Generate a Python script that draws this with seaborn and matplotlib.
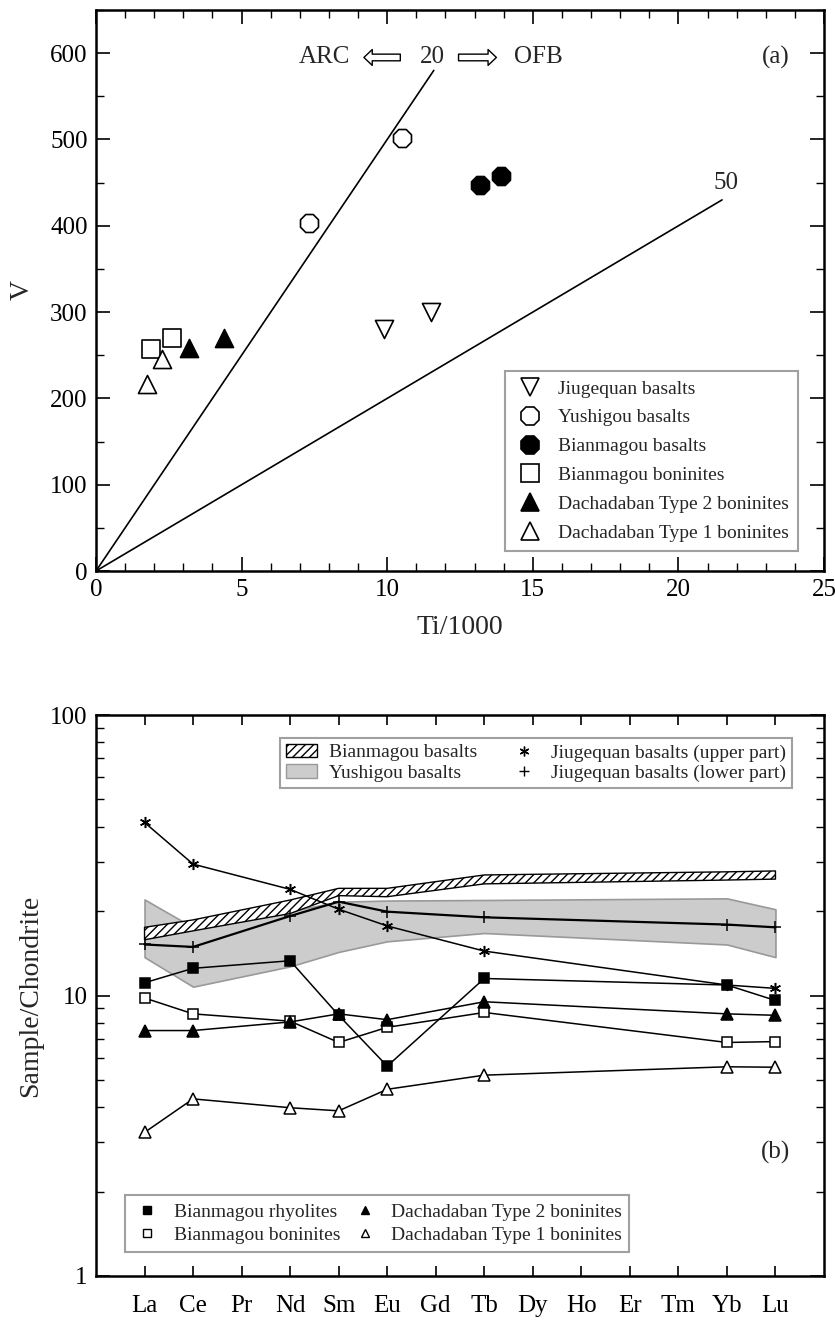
import numpy as np
import pandas as pd
import matplotlib
matplotlib.use("Agg")
import matplotlib.pyplot as plt
import seaborn as sns
from matplotlib.lines import Line2D
from matplotlib.patches import Patch
from matplotlib.ticker import MultipleLocator, LogLocator, NullFormatter, FixedLocator

sns.set_theme(style="ticks")
plt.rcParams['font.family'] = ['Liberation Serif', 'DejaVu Serif']
plt.rcParams['hatch.linewidth'] = 1.0

# ---------------- Panel (a) data ----------------
jiu_ti = [9.9, 11.5]
jiu_v = [280, 300]
yus_ti = [7.3, 10.5]
yus_v = [403, 502]
bmb_ti = [13.2, 13.9]
bmb_v = [447, 458]
bmbon_ti = [1.9, 2.6]
bmbon_v = [257, 270]
d2_ti = [3.2, 4.4]
d2_v = [258, 270]
d1_ti = [1.75, 2.25]
d1_v = [217, 246]

ratio_lines = [20, 50]
ratio_ends = [11.6, 21.5]

# ---------------- Panel (b) data ----------------
ree = ["La", "Ce", "Pr", "Nd", "Sm", "Eu", "Gd", "Tb", "Dy", "Ho", "Er", "Tm", "Yb", "Lu"]
meas = ["La", "Ce", "Nd", "Sm", "Eu", "Tb", "Yb", "Lu"]

jiu_upper = [41.4, 29.4, 23.9, 20.3, 17.7, 14.4, 10.9, 10.6]
jiu_lower = [15.2, 14.9, 19.2, 21.6, 19.9, 19.0, 17.9, 17.5]
bm_rhy = [11.1, 12.5, 13.3, 8.5, 5.6, 11.5, 10.9, 9.6]
bm_bon = [9.8, 8.6, 8.1, 6.8, 7.7, 8.7, 6.8, 6.85]
dach2 = [7.5, 7.5, 8.05, 8.6, 8.2, 9.5, 8.6, 8.5]
dach1 = [3.25, 4.28, 3.98, 3.88, 4.63, 5.2, 5.57, 5.55]

bmbas_hi = [17.5, 18.6, 21.9, 24.1, 24.1, 26.9, 27.6, 27.8]
bmbas_lo = [15.8, 17.0, 19.6, 22.7, 22.5, 25.0, 25.8, 26.0]
yus_hi = [22.0, 17.5, 20.0, 21.6, 21.8, 21.9, 22.2, 20.3]
yus_lo = [13.7, 10.75, 12.7, 14.3, 15.6, 16.7, 15.2, 13.7]

W, H = 835, 1325
fig = plt.figure(figsize=(W / 100, H / 100), dpi=100)
axa = fig.add_axes([96 / W, 1 - 571 / H, 728 / W, 561 / H])
axb = fig.add_axes([96 / W, 1 - 1276 / H, 728 / W, 561 / H])

TICK_FS = 18
LAB_FS = 20
ANN_FS = 18

# ---------------- Panel (a) ----------------
dfa = pd.concat([
    pd.DataFrame({"Ti": jiu_ti, "V": jiu_v, "grp": "Jiugequan basalts"}),
    pd.DataFrame({"Ti": yus_ti, "V": yus_v, "grp": "Yushigou basalts"}),
    pd.DataFrame({"Ti": bmb_ti, "V": bmb_v, "grp": "Bianmagou basalts"}),
    pd.DataFrame({"Ti": bmbon_ti, "V": bmbon_v, "grp": "Bianmagou boninites"}),
    pd.DataFrame({"Ti": d2_ti, "V": d2_v, "grp": "Dachadaban Type 2 boninites"}),
    pd.DataFrame({"Ti": d1_ti, "V": d1_v, "grp": "Dachadaban Type 1 boninites"}),
])
styles_a = {
    "Jiugequan basalts": ("v", "white", 13),
    "Yushigou basalts": ("8", "white", 14),
    "Bianmagou basalts": ("8", "black", 14),
    "Bianmagou boninites": ("s", "white", 13),
    "Dachadaban Type 2 boninites": ("^", "black", 13),
    "Dachadaban Type 1 boninites": ("^", "white", 13),
}

for r, xe in zip(ratio_lines, ratio_ends):
    xs = np.array([0, xe])
    axa.plot(xs, xs * 1000 / r, color="black", lw=1.2, zorder=1)

handles_a = []
for g, (m, fc, ms) in styles_a.items():
    sub = dfa[dfa.grp == g]
    sns.scatterplot(data=sub, x="Ti", y="V", marker=m, s=ms ** 2, color=fc,
                    edgecolor="black", linewidth=1.2, ax=axa, zorder=3, legend=False)
    handles_a.append(Line2D([], [], ls="none", marker=m, markersize=ms,
                            markerfacecolor=fc, markeredgecolor="black", markeredgewidth=1.2, label=g))

axa.set_xlim(0, 25)
axa.set_ylim(0, 650)
axa.xaxis.set_major_locator(MultipleLocator(5))
axa.xaxis.set_minor_locator(MultipleLocator(1))
axa.yaxis.set_minor_locator(MultipleLocator(50))
axa.set_yticks([0, 100, 200, 300, 400, 500, 600])
axa.set_xlabel("Ti/1000", fontsize=LAB_FS, labelpad=10)
axa.set_ylabel("V", fontsize=LAB_FS, labelpad=11)

axa.text(7.84, 595, "ARC", fontsize=ANN_FS, ha="center", va="center")
axa.text(11.54, 595, "20", fontsize=ANN_FS, ha="center", va="center")
axa.text(15.2, 595, "OFB", fontsize=ANN_FS, ha="center", va="center")
axa.text(23.36, 595, "(a)", fontsize=ANN_FS, ha="center", va="center")
axa.text(21.64, 450, "50", fontsize=ANN_FS, ha="center", va="center")
arrow_kw = dict(arrowstyle="simple,head_length=0.5,head_width=0.95,tail_width=0.4",
                fc="white", ec="black", lw=1.0, shrinkA=0, shrinkB=0)
axa.annotate("", xy=(9.2, 595), xytext=(10.45, 595), arrowprops=arrow_kw)
axa.annotate("", xy=(13.75, 595), xytext=(12.45, 595), arrowprops=arrow_kw)

lega = axa.legend(handles=handles_a, loc="lower right", bbox_to_anchor=(0.964, 0.036),
                  borderaxespad=0, fontsize=14, frameon=True, fancybox=False,
                  edgecolor="#888888", handletextpad=0.6, borderpad=0.45,
                  labelspacing=0.58, handlelength=1.7)
lega.get_frame().set_linewidth(1.5)

# ---------------- Panel (b) ----------------
xpos = [ree.index(e) + 1 for e in meas]

axb.fill_between(xpos, yus_lo, yus_hi, facecolor="#cccccc", edgecolor="#999999", lw=1.2, zorder=1)
axb.fill_between(xpos, bmbas_lo, bmbas_hi, facecolor="white", edgecolor="black",
                 hatch="////", lw=1.0, zorder=2)

series_b = [
    ("Jiugequan basalts (upper part)", jiu_upper, (6, 2, 0), "black", 8),
    ("Jiugequan basalts (lower part)", jiu_lower, "+", "black", 9),
    ("Bianmagou rhyolites", bm_rhy, "s", "black", 7.5),
    ("Bianmagou boninites", bm_bon, "s", "white", 7.5),
    ("Dachadaban Type 2 boninites", dach2, "^", "black", 8),
    ("Dachadaban Type 1 boninites", dach1, "^", "white", 8),
]
for name, vals, m, fc, ms in series_b:
    dfb = pd.DataFrame({"x": xpos, "y": vals})
    lw = 1.6 if "lower" in name else 1.1
    sns.lineplot(data=dfb, x="x", y="y", ax=axb, color="black", lw=lw, marker=m,
                 markersize=ms, markerfacecolor=fc, markeredgecolor="black",
                 markeredgewidth=1.1, zorder=4, legend=False, estimator=None)

axb.set_yscale("log")
axb.set_ylim(1, 100)
axb.set_xlim(0, 15)
axb.set_xticks(range(1, 15))
axb.set_xticklabels(ree)
axb.yaxis.set_major_locator(FixedLocator([1, 10, 100]))
axb.set_yticklabels(["1", "10", "100"])
axb.yaxis.set_minor_locator(LogLocator(base=10, subs=np.arange(2, 10)))
axb.yaxis.set_minor_formatter(NullFormatter())
axb.set_xlabel("")
axb.set_ylabel("Sample/Chondrite", fontsize=LAB_FS, labelpad=5)
axb.text(14, 2.75, "(b)", fontsize=ANN_FS, ha="center", va="center")

hb1 = [Patch(facecolor="white", edgecolor="black", hatch="////", label="Bianmagou basalts"),
       Patch(facecolor="#cccccc", edgecolor="#999999", label="Yushigou basalts"),
       Line2D([], [], ls="none", marker=(6, 2, 0), markersize=7, color="black", label="Jiugequan basalts (upper part)"),
       Line2D([], [], ls="none", marker="+", markersize=7, color="black", label="Jiugequan basalts (lower part)")]
legb1 = axb.legend(handles=hb1, loc="upper right", bbox_to_anchor=(0.956, 0.959), ncol=2,
                   borderaxespad=0, fontsize=14, frameon=True, fancybox=False,
                   edgecolor="#888888", handletextpad=0.6, borderpad=0.3,
                   labelspacing=0.15, columnspacing=1.6, handlelength=1.6)
legb1.get_frame().set_linewidth(1.5)
axb.add_artist(legb1)

hb2 = [Line2D([], [], ls="none", marker="s", markersize=6, markerfacecolor="black", markeredgecolor="black", label="Bianmagou rhyolites"),
       Line2D([], [], ls="none", marker="s", markersize=6, markerfacecolor="white", markeredgecolor="black", label="Bianmagou boninites"),
       Line2D([], [], ls="none", marker="^", markersize=6, markerfacecolor="black", markeredgecolor="black", label="Dachadaban Type 2 boninites"),
       Line2D([], [], ls="none", marker="^", markersize=6, markerfacecolor="white", markeredgecolor="black", label="Dachadaban Type 1 boninites")]
legb2 = axb.legend(handles=hb2, loc="lower left", bbox_to_anchor=(0.04, 0.043), ncol=2,
                   borderaxespad=0, fontsize=14, frameon=True, fancybox=False,
                   edgecolor="#888888", handletextpad=0.6, borderpad=0.4,
                   labelspacing=0.3, columnspacing=0.5, handlelength=1.5)
legb2.get_frame().set_linewidth(1.5)

for ax in (axa, axb):
    for sp in ax.spines.values():
        sp.set_linewidth(1.8)
        sp.set_color("black")
    ax.tick_params(which="both", direction="in", top=True, right=True, color="black",
                   labelsize=TICK_FS, labelcolor="black")
    ax.tick_params(which="major", length=10, width=1.2, pad=6)
    ax.tick_params(which="minor", length=6, width=1.0)
axb.tick_params(axis="x", which="major", length=7, pad=14)

fig.savefig("out.png", dpi=100)
